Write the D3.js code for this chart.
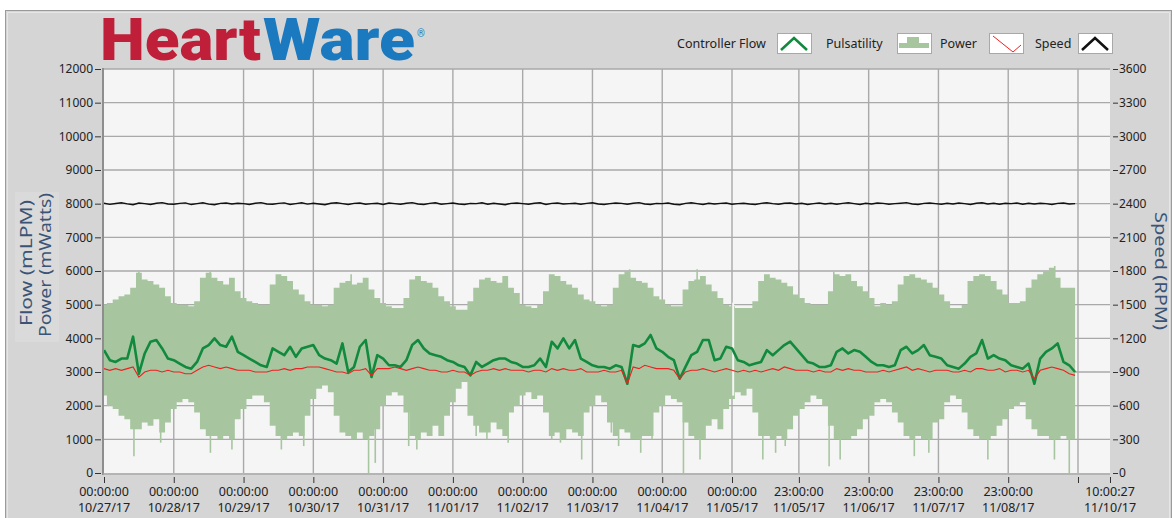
<!DOCTYPE html>
<html>
<head>
<meta charset="utf-8">
<script src="https://cdn.jsdelivr.net/npm/d3@7"></script>
<style>
  body { margin: 0; background: #fff; }
  svg { display: block; font-family: "Noto Sans", sans-serif; }
</style>
</head>
<body>
<script>
width = 1174;
height = 518;

// time range of the recording (UTC used as wall clock)
const startTime = Date.UTC(2017, 9, 27, 0, 0, 0);
const endTime = Date.UTC(2017, 10, 10, 10, 0, 27);
const sampleHours = 2;

const tickDates = [
  Date.UTC(2017, 9, 27), Date.UTC(2017, 9, 28), Date.UTC(2017, 9, 29), Date.UTC(2017, 9, 30),
  Date.UTC(2017, 9, 31), Date.UTC(2017, 10, 1), Date.UTC(2017, 10, 2), Date.UTC(2017, 10, 3),
  Date.UTC(2017, 10, 4), Date.UTC(2017, 10, 5), Date.UTC(2017, 10, 5, 23), Date.UTC(2017, 10, 6, 23),
  Date.UTC(2017, 10, 7, 23), Date.UTC(2017, 10, 8, 23), Date.UTC(2017, 10, 9, 23), endTime
];
const tickTimes = ['00:00:00', '00:00:00', '00:00:00', '00:00:00', '00:00:00', '00:00:00', '00:00:00', '00:00:00',
  '00:00:00', '00:00:00', '23:00:00', '23:00:00', '23:00:00', '23:00:00', '', '10:00:27'];
const tickDays = ['10/27/17', '10/28/17', '10/29/17', '10/30/17', '10/31/17', '11/01/17', '11/02/17', '11/03/17',
  '11/04/17', '11/05/17', '11/05/17', '11/06/17', '11/07/17', '11/08/17', '', '11/10/17'];

const leftTicks = [0, 1000, 2000, 3000, 4000, 5000, 6000, 7000, 8000, 9000, 10000, 11000, 12000];
const rightTicks = [0, 300, 600, 900, 1200, 1500, 1800, 2100, 2400, 2700, 3000, 3300, 3600];

// pulsatility envelope (mLPM), one value every 2 hours
const pulsatilityHigh = [
  5000, 5050, 5150, 5250, 5300, 5500, 5950, 5750, 5700, 5600, 5500, 5250,
  5050, 5000, 5000, 4950, 5100, 5800, 5950, 5800, 5700, 5600, 5800, 5400,
  5200, 5100, 5050, 5000, 5000, 5600, 5900, 5850, 5700, 5450, 5300, 5100,
  5000, 5000, 4950, 5000, 5500, 5650, 5700, 5600, 5650, 5800, 5450, 5200,
  5050, 4950, 4900, 4900, 5200, 5750, 5850, 5700, 5650, 5500, 5250, 5100,
  4950, 4850, 4850, 5100, 5500, 5750, 5800, 5700, 5650, 5850, 5500, 5350,
  5000, 4950, 4900, 5000, 5400, 5900, 5850, 5700, 5600, 5500, 5300, 5150,
  5100, 5000, 4950, 5000, 5500, 5900, 6000, 5800, 5700, 5650, 5500, 5250,
  5150, 5000, 4950, 4950, 5450, 5700, 5750, 5850, 5600, 5400, 5200, 5000,
  4950, 4900, 4900, 4900, 5100, 5700, 5900, 5800, 5750, 5650, 5550, 5300,
  5200, 5050, 5000, 5000, 5000, 5400, 5900, 5850, 5900, 5700, 5550, 5400,
  5200, 4950, 5050, 5000, 5100, 5600, 5850, 5900, 5800, 5750, 5650, 5500,
  5300, 5100, 4900, 4900, 5000, 5700, 5850, 5900, 5850, 5700, 5450, 5300,
  5050, 5050, 5100, 5500, 5750, 5900, 6000, 6100, 5800, 5500, 5500, 5500
];
const pulsatilityLow = [
  2300, 2000, 1900, 1700, 1600, 1300, 1300, 1500, 1400, 1600, 1200, 1500,
  1900, 2100, 2200, 2100, 1800, 1300, 1100, 1100, 1000, 1100, 1000, 1600,
  1900, 2200, 2300, 2300, 2100, 1400, 1100, 1000, 1100, 1200, 1100, 1700,
  2200, 2500, 2600, 2400, 1700, 1200, 1100, 1000, 1200, 1000, 1100, 1300,
  2000, 2300, 2400, 2300, 1800, 1100, 1000, 1200, 1100, 1400, 1100, 1700,
  2100, 2500, 2700, 1700, 1400, 1200, 1200, 1500, 1300, 1100, 1800, 2000,
  2300, 2400, 2200, 2300, 1800, 1100, 1200, 1000, 1300, 1200, 1100, 1800,
  2000, 2300, 2100, 1500, 1100, 1300, 1200, 1000, 1000, 1100, 1100, 1800,
  2000, 2300, 2200, 2100, 1500, 1100, 1000, 1000, 1400, 1600, 1300, 1900,
  2200, 2400, 2300, 2500, 1800, 1100, 1100, 1000, 1100, 1000, 1300, 1700,
  1900, 2100, 2300, 2200, 2000, 1400, 1000, 1000, 1000, 1100, 1300, 1600,
  1700, 2100, 2200, 2100, 1800, 1500, 1100, 1000, 1100, 1000, 1000, 1500,
  1600, 2100, 2300, 2200, 1800, 1300, 1100, 1000, 1000, 1100, 1400, 1600,
  1900, 2000, 2100, 1600, 1300, 1100, 1100, 1000, 1000, 1100, 1000, 1000
];
// single deep pulsatility spikes: [hours from start, value]
const pulsatilityLowSpikes = [
  [10.3, 500], [19.5, 900], [36.6, 600], [44, 700], [61, 700], [68.7, 800], [91, 0], [93.3, 300],
  [104.8, 800], [107.6, 700], [128, 1100], [131.7, 1000], [139, 900], [154, 1000], [157, 900],
  [164.3, 400], [174.5, 1200], [177, 800], [184.6, 600], [188.5, 1000], [199.3, 0], [205, 400],
  [226.6, 400], [231, 600], [234.3, 800], [249.4, 200], [253.2, 400], [278.7, 500], [283.7, 600],
  [304, 400], [326.9, 400], [332, 0]
];
const pulsatilityHighSpikes = [
  [12, 6000], [36.5, 6000], [85, 5900], [180.8, 6050], [204, 6050], [251, 6000], [327, 6150]
];
// short break in the recording
const dataGaps = [[216.4, 5000, 2300]];

// controller flow (mLPM)
const controllerFlow = [
  3650, 3350, 3300, 3400, 3400, 4050, 2950, 3550, 3900, 3950, 3700, 3400,
  3350, 3250, 3150, 3100, 3300, 3700, 3800, 4000, 3800, 3750, 4050, 3600,
  3500, 3400, 3300, 3200, 3150, 3700, 3600, 3500, 3750, 3450, 3700, 3750,
  3800, 3500, 3400, 3350, 3250, 3850, 3000, 3150, 3750, 3950, 2850, 3500,
  3400, 3200, 3200, 3150, 3350, 3800, 3950, 3700, 3550, 3500, 3450, 3350,
  3300, 3200, 3150, 2900, 3300, 3150, 3250, 3350, 3400, 3400, 3300, 3250,
  3150, 3150, 3200, 3400, 3150, 3900, 3700, 4000, 3700, 3950, 3400, 3300,
  3200, 3150, 3150, 3100, 3200, 3150, 2650, 3800, 3750, 3850, 4100, 3700,
  3600, 3450, 3350, 2800, 3150, 3500, 3600, 3950, 3950, 3350, 3400, 3750,
  3700, 3350, 3300, 3200, 3250, 3300, 3650, 3500, 3650, 3800, 3900, 3700,
  3500, 3300, 3250, 3150, 3150, 3200, 3600, 3700, 3550, 3650, 3600, 3450,
  3300, 3200, 3200, 3150, 3200, 3650, 3750, 3550, 3650, 3800, 3500, 3450,
  3400, 3200, 3150, 3100, 3250, 3450, 3550, 3950, 3400, 3500, 3400, 3350,
  3200, 3150, 3100, 3250, 2650, 3400, 3600, 3700, 3850, 3300, 3200, 3000
];
// power (mWatts)
const power = [
  3100, 3050, 3100, 3050, 3100, 3150, 2850, 3000, 3050, 3050, 3000, 3050,
  3000, 3000, 2950, 2950, 3050, 3150, 3200, 3150, 3100, 3150, 3100, 3050,
  3050, 3050, 3000, 3000, 3000, 3050, 3050, 3100, 3050, 3100, 3100, 3150,
  3150, 3150, 3100, 3050, 3000, 3000, 2950, 3050, 3050, 3100, 2900, 3100,
  3100, 3100, 3150, 3100, 3050, 3100, 3150, 3100, 3050, 3050, 3000, 3000,
  3050, 3000, 3000, 2900, 3000, 3050, 3050, 3100, 3050, 3100, 3050, 3050,
  3050, 3000, 3050, 3050, 3000, 3100, 3050, 3100, 3050, 3050, 3100, 3000,
  3000, 3000, 3050, 3000, 3000, 3050, 2650, 3150, 3100, 3200, 3150, 3100,
  3100, 3100, 3050, 2800, 3000, 3050, 3050, 3100, 3050, 3000, 3050, 3100,
  3050, 3000, 3050, 3000, 3050, 3000, 3050, 3100, 3050, 3150, 3100, 3050,
  3050, 3050, 3000, 3050, 3000, 3000, 3100, 3050, 3100, 3050, 3050, 3000,
  3000, 3000, 3050, 3000, 3050, 3100, 3150, 3050, 3100, 3050, 3000, 3050,
  3050, 3050, 3000, 3000, 3050, 3000, 3100, 3100, 3050, 3050, 3100, 3000,
  3050, 3050, 3000, 3050, 2800, 3050, 3100, 3150, 3100, 3050, 2950, 2900
];
// pump speed (RPM, right axis)
const speed = [
  2404, 2394, 2402, 2408, 2398, 2391, 2406, 2400, 2393, 2404, 2409, 2397,
  2395, 2403, 2407, 2392, 2400, 2408, 2396, 2391, 2403, 2406, 2397, 2404,
  2400, 2393, 2404, 2409, 2397, 2395, 2403, 2407, 2393, 2400, 2408, 2396,
  2403, 2397, 2391, 2404, 2408, 2400, 2393, 2403, 2406, 2395, 2400, 2404,
  2393, 2406, 2400, 2395, 2404, 2409, 2397, 2393, 2403, 2408, 2395, 2400,
  2406, 2397, 2393, 2403, 2400, 2408, 2395, 2404, 2397, 2391, 2403, 2406,
  2400, 2395, 2404, 2408, 2393, 2403, 2406, 2397, 2400, 2404, 2395, 2403,
  2408, 2397, 2393, 2400, 2406, 2403, 2395, 2404, 2409, 2397, 2393, 2403,
  2400, 2406, 2395, 2391, 2403, 2408, 2400, 2393, 2404, 2397, 2403, 2406,
  2395, 2400, 2404, 2397, 2393, 2403, 2408, 2400, 2395, 2404, 2406, 2397,
  2403, 2393, 2400, 2406, 2397, 2404, 2395, 2403, 2408, 2400, 2393, 2404,
  2397, 2406, 2403, 2395, 2400, 2404, 2409, 2397, 2393, 2403, 2406, 2400,
  2395, 2403, 2397, 2406, 2400, 2393, 2404, 2408, 2397, 2403, 2395, 2404,
  2400, 2406, 2395, 2403, 2397, 2404, 2400, 2393, 2403, 2406, 2397, 2400
];

const legendItems = ['Controller Flow', 'Pulsatility', 'Power', 'Speed'];

const plot = { left: 104, right: 1110, top: 69, bottom: 473 };
const bandColor = '#a7c6a0';
const plotBg = '#f5f5f5';

function hoursToDate(h) {
  return new Date(startTime + h * 3600e3);
}

function main() {
  const svg = d3.select('body').append('svg').attr('width', width).attr('height', height);

  const x = d3.scaleUtc().domain([startTime, endTime]).range([plot.left, plot.right]);
  const yLeft = d3.scaleLinear().domain([0, 12000]).range([plot.bottom, plot.top]);
  const yRight = d3.scaleLinear().domain([0, 3600]).range([plot.bottom, plot.top]);

  const samples = pulsatilityHigh.map((hi, i) => ({
    t: hoursToDate(i * sampleHours),
    hi,
    lo: pulsatilityLow[i],
    flow: controllerFlow[i],
    power: power[i],
    speed: speed[i]
  }));

  drawFrame(svg);
  drawLogo(svg);
  drawLegend(svg);

  // plot area
  svg.append('rect')
    .attr('x', plot.left).attr('y', plot.top)
    .attr('width', plot.right - plot.left).attr('height', plot.bottom - plot.top)
    .attr('fill', plotBg);

  const grid = svg.append('g').attr('stroke', '#a9a9a9').attr('stroke-width', 1.4);
  grid.selectAll('line.h')
    .data(leftTicks.slice(1))
    .enter().append('line')
    .attr('x1', plot.left).attr('x2', plot.right)
    .attr('y1', d => yLeft(d)).attr('y2', d => yLeft(d));
  grid.selectAll('line.v')
    .data(tickDates.slice(1, -1))
    .enter().append('line')
    .attr('y1', plot.top).attr('y2', plot.bottom)
    .attr('x1', d => x(d)).attr('x2', d => x(d));

  // pulsatility band
  svg.append('path')
    .datum(samples)
    .attr('fill', bandColor)
    .attr('d', d3.area()
      .curve(d3.curveStep)
      .x(d => x(d.t))
      .y0(d => yLeft(d.lo))
      .y1(d => yLeft(d.hi)));

  const spikes = svg.append('g').attr('stroke', bandColor).attr('stroke-width', 1.6);
  spikes.selectAll('line.lo')
    .data(pulsatilityLowSpikes)
    .enter().append('line')
    .attr('x1', d => x(hoursToDate(d[0]))).attr('x2', d => x(hoursToDate(d[0])))
    .attr('y1', d => yLeft(d[1])).attr('y2', yLeft(2500));
  spikes.selectAll('line.hi')
    .data(pulsatilityHighSpikes)
    .enter().append('line')
    .attr('x1', d => x(hoursToDate(d[0]))).attr('x2', d => x(hoursToDate(d[0])))
    .attr('y1', d => yLeft(d[1])).attr('y2', yLeft(5000));

  svg.append('g')
    .selectAll('line')
    .data(dataGaps)
    .enter().append('line')
    .attr('x1', d => x(hoursToDate(d[0]))).attr('x2', d => x(hoursToDate(d[0])))
    .attr('y1', d => yLeft(d[1]) - 2).attr('y2', d => yLeft(d[2]))
    .attr('stroke', plotBg).attr('stroke-width', 2);

  svg.append('path')
    .datum(samples)
    .attr('fill', 'none')
    .attr('stroke', '#118a3d')
    .attr('stroke-width', 2.6)
    .attr('stroke-linejoin', 'round')
    .attr('d', d3.line().x(d => x(d.t)).y(d => yLeft(d.flow)));

  svg.append('path')
    .datum(samples)
    .attr('fill', 'none')
    .attr('stroke', '#ef2020')
    .attr('stroke-width', 1.1)
    .attr('d', d3.line().x(d => x(d.t)).y(d => yLeft(d.power)));

  svg.append('path')
    .datum(samples)
    .attr('fill', 'none')
    .attr('stroke', '#111')
    .attr('stroke-width', 1.4)
    .attr('d', d3.line().x(d => x(d.t)).y(d => yRight(d.speed)));

  // plot borders
  svg.append('line')
    .attr('x1', plot.left - 1).attr('x2', plot.left - 1)
    .attr('y1', plot.top - 1).attr('y2', plot.bottom + 2)
    .attr('stroke', '#8e8e8e').attr('stroke-width', 2);
  svg.append('line')
    .attr('x1', plot.left - 1).attr('x2', plot.right)
    .attr('y1', plot.bottom + 1).attr('y2', plot.bottom + 1)
    .attr('stroke', '#a8a8a8').attr('stroke-width', 1.5);

  drawAxes(svg, x, yLeft, yRight);
}

function styleAxis(g) {
  g.select('.domain').remove();
  g.attr('font-family', '"Noto Sans", sans-serif').attr('font-size', 12);
  g.selectAll('.tick line').attr('stroke', '#333');
  g.selectAll('.tick text').attr('fill', '#222');
}

function drawAxes(svg, x, yLeft, yRight) {
  svg.append('g')
    .attr('transform', `translate(${plot.left - 3},0)`)
    .call(d3.axisLeft(yLeft).tickValues(leftTicks).tickSize(6).tickPadding(2).tickFormat(d3.format('d')))
    .call(styleAxis);

  svg.append('g')
    .attr('transform', `translate(${plot.right + 3},0)`)
    .call(d3.axisRight(yRight).tickValues(rightTicks).tickSize(5).tickPadding(1).tickFormat(d3.format('d')))
    .call(styleAxis);

  svg.append('g')
    .attr('transform', `translate(0,${plot.bottom + 4})`)
    .call(d3.axisBottom(x).tickValues(tickDates).tickSize(6).tickFormat(() => ''))
    .call(styleAxis);

  const labels = svg.append('g')
    .attr('font-size', 12.5)
    .attr('fill', '#222')
    .attr('text-anchor', 'middle');
  labels.selectAll('text')
    .data(tickDates)
    .enter().append('text')
    .each(function (d, i) {
      const t = d3.select(this);
      t.append('tspan').attr('x', x(d)).attr('y', 496).text(tickTimes[i]);
      t.append('tspan').attr('x', x(d)).attr('y', 512).text(tickDays[i]);
    });

  // axis titles
  const titleColor = '#3b5475';
  svg.append('text')
    .attr('transform', 'translate(32,263) rotate(-90)')
    .attr('text-anchor', 'middle').attr('font-size', 17).attr('fill', titleColor)
    .attr('textLength', 126).attr('lengthAdjust', 'spacingAndGlyphs')
    .text('Flow (mLPM)');
  svg.append('text')
    .attr('transform', 'translate(51,265) rotate(-90)')
    .attr('text-anchor', 'middle').attr('font-size', 17).attr('fill', titleColor)
    .attr('textLength', 144).attr('lengthAdjust', 'spacingAndGlyphs')
    .text('Power (mWatts)');
  svg.append('text')
    .attr('transform', 'translate(1155,271) rotate(90)')
    .attr('text-anchor', 'middle').attr('font-size', 16).attr('fill', titleColor)
    .attr('textLength', 118).attr('lengthAdjust', 'spacingAndGlyphs')
    .text('Speed (RPM)');
}

function drawFrame(svg) {
  svg.append('rect').attr('width', width).attr('height', height).attr('fill', '#fff');
  svg.append('rect')
    .attr('x', 5.5).attr('y', 10.5).attr('width', 1166).attr('height', 510)
    .attr('fill', '#d5d5d5').attr('stroke', '#9a9a9a');
  svg.append('rect')
    .attr('x', 7.5).attr('y', 12.5).attr('width', 1162).attr('height', 510)
    .attr('fill', 'none').attr('stroke', '#e6e6e6');
  svg.append('rect')
    .attr('x', 15).attr('y', 192).attr('width', 44).attr('height', 150)
    .attr('fill', '#dadada');
}

function drawLogo(svg) {
  const logo = svg.append('g').attr('font-family', 'Roboto, "Noto Sans", sans-serif').attr('font-weight', 900);
  logo.append('text')
    .attr('x', 100).attr('y', 60).attr('font-size', 60).attr('fill', '#bf1f38')
    .attr('textLength', 161).attr('lengthAdjust', 'spacingAndGlyphs')
    .text('Heart');
  logo.append('text')
    .attr('x', 263).attr('y', 60).attr('font-size', 60).attr('fill', '#1b79bf')
    .attr('textLength', 152).attr('lengthAdjust', 'spacingAndGlyphs')
    .text('Ware');
  logo.append('text')
    .attr('x', 417).attr('y', 37).attr('font-size', 10).attr('font-weight', 400).attr('fill', '#1b79bf')
    .text('®');
}

function drawLegend(svg) {
  const textX = [677, 826, 940, 1035];
  const boxX = [777, 897, 989, 1078];
  const legend = svg.append('g').attr('font-size', 12.5).attr('fill', '#222');

  legend.selectAll('text')
    .data(legendItems)
    .enter().append('text')
    .attr('x', (_, i) => textX[i])
    .attr('y', 48)
    .text(d => d);

  legend.selectAll('rect')
    .data(legendItems)
    .enter().append('rect')
    .attr('x', (_, i) => boxX[i] + 0.5)
    .attr('y', 33.5)
    .attr('width', 34)
    .attr('height', 20)
    .attr('fill', '#fff')
    .attr('stroke', '#a8a8a8');

  const chevron = bx => `M${bx + 4},50 L${bx + 17},38 L${bx + 30},50`;
  legend.append('path').attr('d', chevron(boxX[0]))
    .attr('fill', 'none').attr('stroke', '#118a3d').attr('stroke-width', 2.5);
  const px = boxX[1];
  legend.append('path')
    .attr('d', `M${px + 2},48 V43 H${px + 10} V37 H${px + 22} V43 H${px + 32} V48 Z`)
    .attr('fill', bandColor);
  const wx = boxX[2];
  legend.append('path').attr('d', `M${wx + 4},36 L${wx + 24},52 L${wx + 32},45`)
    .attr('fill', 'none').attr('stroke', '#ef2020').attr('stroke-width', 1);
  legend.append('path').attr('d', chevron(boxX[3]))
    .attr('fill', 'none').attr('stroke', '#111').attr('stroke-width', 2.5);
}

main();
</script>
</body>
</html>
